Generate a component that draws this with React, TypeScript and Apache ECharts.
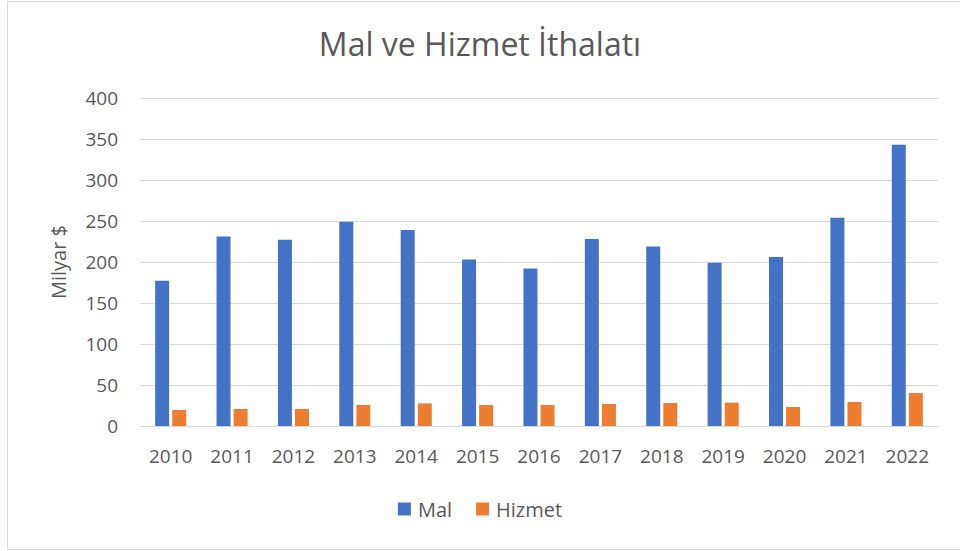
import React, { useEffect, useRef } from "react";
import * as echarts from "echarts";

const years = ["2010","2011","2012","2013","2014","2015","2016","2017","2018","2019","2020","2021","2022"];
const mal = [177, 231, 227, 249, 239, 203, 192, 228, 219, 199, 206, 254, 343];
const hizmet = [19.5, 20.7, 20.7, 25.6, 27.6, 25.6, 25.6, 26.8, 28.0, 28.5, 23.2, 29.3, 40.2];
const yTicks = { min: 0, max: 400, interval: 50 };

export default function App() {
  const ref = useRef<HTMLDivElement>(null);
  useEffect(() => {
    if (!ref.current) return;
    const chart = echarts.init(ref.current, null, { renderer: "svg" });
    const font = "'Open Sans', 'Noto Sans', sans-serif";
    chart.setOption({
      animation: false,
      backgroundColor: "#ffffff",
      textStyle: { fontFamily: font },
      title: {
        text: "Mal ve Hizmet İthalatı",
        left: "center",
        top: 22,
        textStyle: { fontSize: 32, fontWeight: "normal", color: "#595959", fontFamily: font },
      },
      graphic: [
        {
          type: "rect",
          shape: { x: 7.5, y: 1.5, width: 960, height: 548 },
          style: { fill: "none", stroke: "#d9d9d9", lineWidth: 1 },
          silent: true,
        },
      ],
      legend: {
        bottom: 27,
        left: "center",
        itemWidth: 13,
        itemHeight: 13,
        itemGap: 24,
        icon: "rect",
        textStyle: { fontSize: 20, color: "#595959", fontFamily: font, padding: [0, 0, 0, 2] },
        data: ["Mal", "Hizmet"],
      },
      grid: { left: 140, right: 22, top: 98, bottom: 125, containLabel: false },
      xAxis: {
        type: "category",
        data: years,
        axisLine: { lineStyle: { color: "#d9d9d9", width: 1 } },
        axisTick: { show: false },
        axisLabel: { fontSize: 19, color: "#595959", margin: 20, fontFamily: font },
      },
      yAxis: {
        type: "value",
        min: yTicks.min,
        max: yTicks.max,
        interval: yTicks.interval,
        name: "Milyar $",
        nameLocation: "middle",
        nameGap: 72,
        nameTextStyle: { fontSize: 20, color: "#595959", fontFamily: font },
        axisLine: { show: false },
        axisTick: { show: false },
        axisLabel: { fontSize: 19, color: "#595959", margin: 22, fontFamily: font },
        splitLine: { lineStyle: { color: "#d9d9d9", width: 1 } },
      },
      series: [
        {
          name: "Mal",
          type: "bar",
          data: mal,
          barWidth: 14,
          barGap: "22%",
          itemStyle: { color: "#4472c4" },
        },
        {
          name: "Hizmet",
          type: "bar",
          data: hizmet,
          barWidth: 14,
          barGap: "22%",
          itemStyle: { color: "#ed7d31" },
        },
      ],
    });
    return () => chart.dispose();
  }, []);
  return (
    <div
      ref={ref}
      style={{ position: "fixed", left: 0, top: 0, width: 960, height: 551 }}
    />
  );
}
